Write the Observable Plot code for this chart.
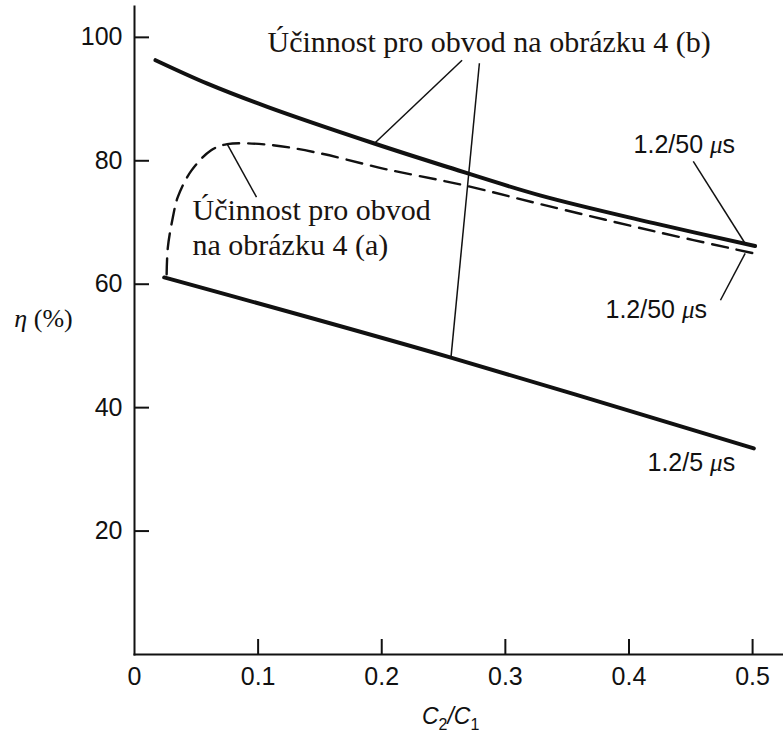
<!DOCTYPE html>
<html>
<head>
<meta charset="utf-8">
<script src="https://cdn.jsdelivr.net/npm/d3@7"></script>
<script src="https://cdn.jsdelivr.net/npm/@observablehq/plot@0.6"></script>
<style>
  html, body { margin: 0; padding: 0; background: #fff; }
</style>
</head>
<body>
<div id="chart"></div>
<script>
// Efficiency η (%) against capacitance ratio C2/C1

// Circuit (b), 1.2/50 µs wave
const ratioB50 = [0.017, 0.059, 0.108, 0.194, 0.250, 0.328, 0.420, 0.502];
const etaB50   = [96.3, 92.5, 88.7, 82.8, 79.2, 74.4, 69.9, 66.2];

// Circuit (a), 1.2/50 µs wave (dashed)
const ratioA50 = [0.026, 0.027, 0.031, 0.035, 0.046, 0.062, 0.075, 0.108, 0.148, 0.202, 0.265, 0.328, 0.420, 0.501];
const etaA50   = [61.6, 66.0, 70.8, 74.1, 78.4, 81.7, 82.7, 82.6, 81.3, 78.7, 76.1, 73.0, 68.6, 65.0];

// 1.2/5 µs wave
const ratio5 = [0.024, 0.256, 0.501];
const eta5   = [61.1, 48.1, 33.4];

const xTicks = [0, 0.1, 0.2, 0.3, 0.4, 0.5];
const yTicks = [20, 40, 60, 80, 100];

const xTitle = "C2/C1";
const yTitle = "η (%)";

// Callout texts and their anchor points (data units)
const labelTexts  = ["Účinnost pro obvod na obrázku 4 (b)", "Účinnost pro obvod\nna obrázku 4 (a)", "1.2/50 μs", "1.2/50 μs", "1.2/5 μs"];
const labelRatio  = [0.1076, 0.0469, 0.4037, 0.381, 0.415];
const labelEta    = [97.55, 64.66, 81.2, 54.6, 29.8];
const labelSerif  = [true, true, false, false, false];

// Leader lines: from label to curve
const leaderFrom = [[0.265, 96.3], [0.279, 95.8], [0.0987, 74.1], [0.452, 79.9], [0.474, 57.4]];
const leaderTo   = [[0.194, 82.8], [0.256, 48.1], [0.075, 82.7], [0.494, 66.6], [0.494, 65.0]];

const toPoints = (xs, ys) => xs.map((x, i) => ({ratio: x, eta: ys[i]}));
const curveB50 = toPoints(ratioB50, etaB50);
const curveA50 = toPoints(ratioA50, etaA50);
const curve5 = toPoints(ratio5, eta5);
const labels = labelTexts.map((t, i) => ({text: t, ratio: labelRatio[i], eta: labelEta[i], serif: labelSerif[i]}));
const leaders = leaderFrom.map((f, i) => ({x1: f[0], y1: f[1], x2: leaderTo[i][0], y2: leaderTo[i][1]}));

const SANS = "'Liberation Sans', Arial, Helvetica, sans-serif";
const SERIF = "'Liberation Serif', 'Times New Roman', serif";
const INK = "#111";

const chart = Plot.plot({
  width: 783,
  height: 733,
  marginLeft: 134,
  marginRight: 0,
  marginTop: 6,
  marginBottom: 79,
  style: {fontFamily: SANS, color: INK, background: "#fff"},
  x: {domain: [0, 0.525]},
  y: {domain: [0, 105]},
  marks: [
    Plot.frame({anchor: "left", stroke: INK, strokeWidth: 2}),
    Plot.frame({anchor: "bottom", stroke: INK, strokeWidth: 2}),
    Plot.axisY({ticks: yTicks, tickSize: 0, tickPadding: 12, fontSize: 25, label: null, fill: INK}),
    Plot.axisY({ticks: yTicks, tickSize: -15, text: null, label: null, stroke: INK, strokeWidth: 2}),
    Plot.axisX({ticks: xTicks, tickSize: 0, tickPadding: 13, fontSize: 25, label: null, fill: INK,
      tickFormat: d => d === 0 ? "0" : d.toFixed(1)}),
    Plot.axisX({ticks: xTicks.filter(d => d > 0), tickSize: -15, text: null, label: null, stroke: INK, strokeWidth: 2}),
    Plot.line(curveB50, {x: "ratio", y: "eta", stroke: INK, strokeWidth: 4, curve: "catmull-rom"}),
    Plot.line(curveA50, {x: "ratio", y: "eta", stroke: INK, strokeWidth: 2.4, strokeDasharray: "16,9", curve: "catmull-rom"}),
    Plot.line(curve5, {x: "ratio", y: "eta", stroke: INK, strokeWidth: 4, curve: "catmull-rom"}),
    Plot.link(leaders, {x1: "x1", y1: "y1", x2: "x2", y2: "y2", stroke: INK, strokeWidth: 1.5}),
    Plot.text(labels.filter(d => d.serif), {x: "ratio", y: "eta", text: "text", textAnchor: "start",
      lineAnchor: "bottom", lineHeight: 1.167, fontSize: 30, fontFamily: SERIF, fill: "#1a1410"}),
    Plot.text(labels.filter(d => !d.serif), {x: "ratio", y: "eta", text: "text", textAnchor: "start",
      lineAnchor: "bottom", fontSize: 25, fontFamily: SANS, fill: INK}),
    Plot.text([{t: yTitle, eta: 53}], {y: "eta", text: "t", frameAnchor: "left", dx: -91, textAnchor: "middle",
      lineAnchor: "bottom", fontSize: 26, fontFamily: SERIF, fill: INK}),
    Plot.text([{t: xTitle, ratio: 0.2557}], {x: "ratio", text: "t", frameAnchor: "bottom", dy: 69,
      textAnchor: "middle", lineAnchor: "bottom", fontSize: 23, fontFamily: SANS, fill: INK})
  ]
});

// Typographic details: italic Greek symbols and subscripted capacitances
const NS = "http://www.w3.org/2000/svg";
function tspan(str, attrs) {
  const t = document.createElementNS(NS, "tspan");
  t.textContent = str;
  for (const k in attrs) t.setAttribute(k, attrs[k]);
  return t;
}
d3.select(chart).selectAll("text").each(function() {
  if (this.querySelector("tspan")) return;
  const s = this.textContent;
  if (s === xTitle) {
    this.textContent = "";
    this.append(
      tspan("C", {"font-style": "italic"}),
      tspan("2", {"font-size": "16", "dy": "6"}),
      tspan("/C", {"font-style": "italic", "dy": "-6"}),
      tspan("1", {"font-size": "16", "dy": "6"})
    );
  } else if (s === yTitle) {
    this.textContent = "";
    this.append(tspan("η", {"font-style": "italic"}), tspan(" (%)", {}));
  } else if (s.includes("μ")) {
    const [a, b] = s.split("μ");
    this.textContent = "";
    this.append(tspan(a, {}), tspan("μ", {"font-style": "italic", "font-family": SERIF}), tspan(b, {}));
  }
});

document.getElementById("chart").appendChild(chart);
</script>
</body>
</html>
